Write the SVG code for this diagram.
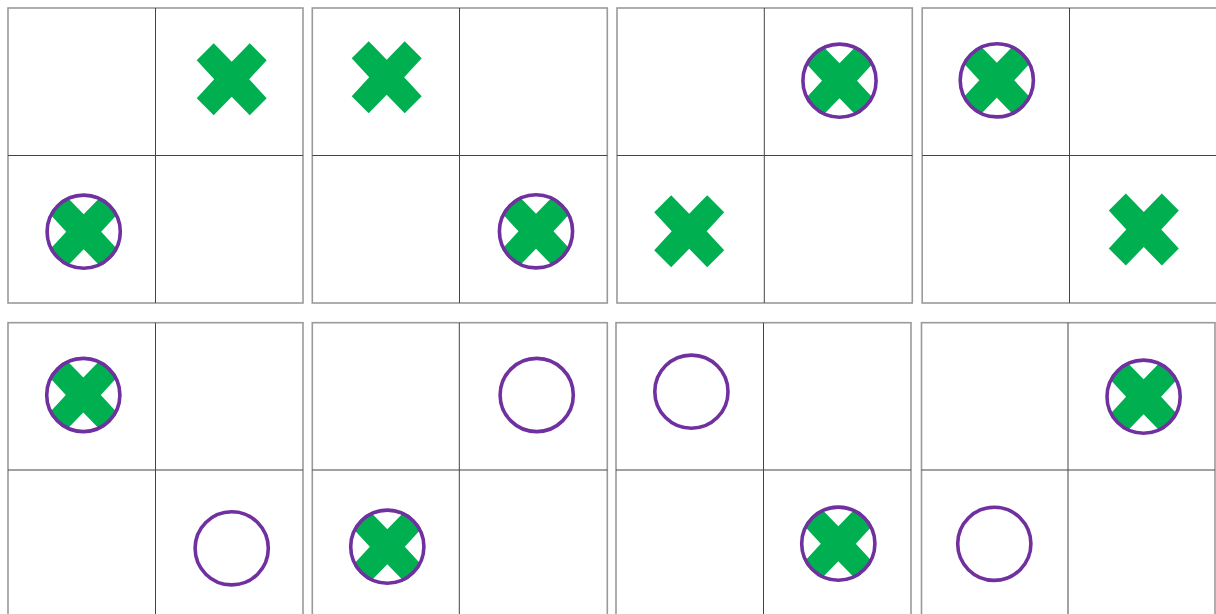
<svg xmlns="http://www.w3.org/2000/svg" xmlns:xlink="http://www.w3.org/1999/xlink" width="1216" height="614" viewBox="0 0 1216 614">
<style>
.frame{fill:#ffffff;stroke:#9a9a9a;stroke-width:1.6}
.grid{stroke:#444444;stroke-width:1}
.x{fill:#00b050}
.o{fill:none;stroke:#7030a0;stroke-width:3.6}
</style>
<defs>
<path id="xmark" class="x" d="M-35,-19 L-18,-36 L0,-17.5 L18,-36 L35,-19 L17.5,0 L35,19 L18,36 L0,17.5 L-18,36 L-35,19 L-17.5,0 Z"/>
<clipPath id="cclip" clipPathUnits="userSpaceOnUse"><circle cx="0" cy="0" r="38.3"/></clipPath>
<g id="cxmark">
<use xlink:href="#xmark" clip-path="url(#cclip)"/>
<circle class="o" cx="0" cy="0" r="36.6"/>
</g>
<circle id="omark" class="o" cx="0" cy="0" r="36.6"/>
</defs>
<rect width="1216" height="614" fill="#ffffff"/>
<g id="board-r1-1">
<rect class="frame" x="8" y="8" width="295" height="295"/>
<line class="grid" x1="155.5" y1="8" x2="155.5" y2="303"/>
<line class="grid" x1="8" y1="155.5" x2="303" y2="155.5"/>
<use xlink:href="#xmark" x="231.7" y="79.2"/>
<use xlink:href="#cxmark" x="83.7" y="231.7"/>
</g>
<g id="board-r1-2">
<rect class="frame" x="312.3" y="8" width="295" height="295"/>
<line class="grid" x1="459.5" y1="8" x2="459.5" y2="303"/>
<line class="grid" x1="312.3" y1="155.5" x2="607.3" y2="155.5"/>
<use xlink:href="#xmark" x="386.7" y="77.2"/>
<use xlink:href="#cxmark" x="536" y="231.3"/>
</g>
<g id="board-r1-3">
<rect class="frame" x="617" y="8" width="295.3" height="295"/>
<line class="grid" x1="764.3" y1="8" x2="764.3" y2="303"/>
<line class="grid" x1="617" y1="155.5" x2="912.3" y2="155.5"/>
<use xlink:href="#cxmark" x="839.5" y="80.7"/>
<use xlink:href="#xmark" x="689.2" y="231.3"/>
</g>
<g id="board-r1-4">
<rect class="frame" x="922.2" y="8" width="295" height="295"/>
<line class="grid" x1="1069.5" y1="8" x2="1069.5" y2="303"/>
<line class="grid" x1="922.2" y1="155.5" x2="1217.2" y2="155.5"/>
<use xlink:href="#cxmark" x="996.8" y="80.3"/>
<use xlink:href="#xmark" x="1143.8" y="229.5"/>
</g>
<g id="board-r2-1">
<rect class="frame" x="8" y="322.7" width="295" height="295"/>
<line class="grid" x1="155.5" y1="322.7" x2="155.5" y2="617.7"/>
<line class="grid" x1="8" y1="470" x2="303" y2="470"/>
<use xlink:href="#cxmark" x="83.3" y="395"/>
<use xlink:href="#omark" x="231.7" y="548.3"/>
</g>
<g id="board-r2-2">
<rect class="frame" x="312.3" y="322.7" width="295" height="295"/>
<line class="grid" x1="459.3" y1="322.7" x2="459.3" y2="617.7"/>
<line class="grid" x1="312.3" y1="470" x2="607.3" y2="470"/>
<use xlink:href="#omark" x="536.7" y="395"/>
<use xlink:href="#cxmark" x="387.3" y="546.7"/>
</g>
<g id="board-r2-3">
<rect class="frame" x="616" y="322.7" width="295" height="295"/>
<line class="grid" x1="763.5" y1="322.7" x2="763.5" y2="617.7"/>
<line class="grid" x1="616" y1="470" x2="911" y2="470"/>
<use xlink:href="#omark" x="691.4" y="391.7"/>
<use xlink:href="#cxmark" x="838.3" y="543.7"/>
</g>
<g id="board-r2-4">
<rect class="frame" x="921.5" y="322.7" width="293.5" height="295"/>
<line class="grid" x1="1068" y1="322.7" x2="1068" y2="617.7"/>
<line class="grid" x1="921.5" y1="470" x2="1215" y2="470"/>
<use xlink:href="#cxmark" x="1143.6" y="396.7"/>
<use xlink:href="#omark" x="994.3" y="543.8"/>
</g>
</svg>
